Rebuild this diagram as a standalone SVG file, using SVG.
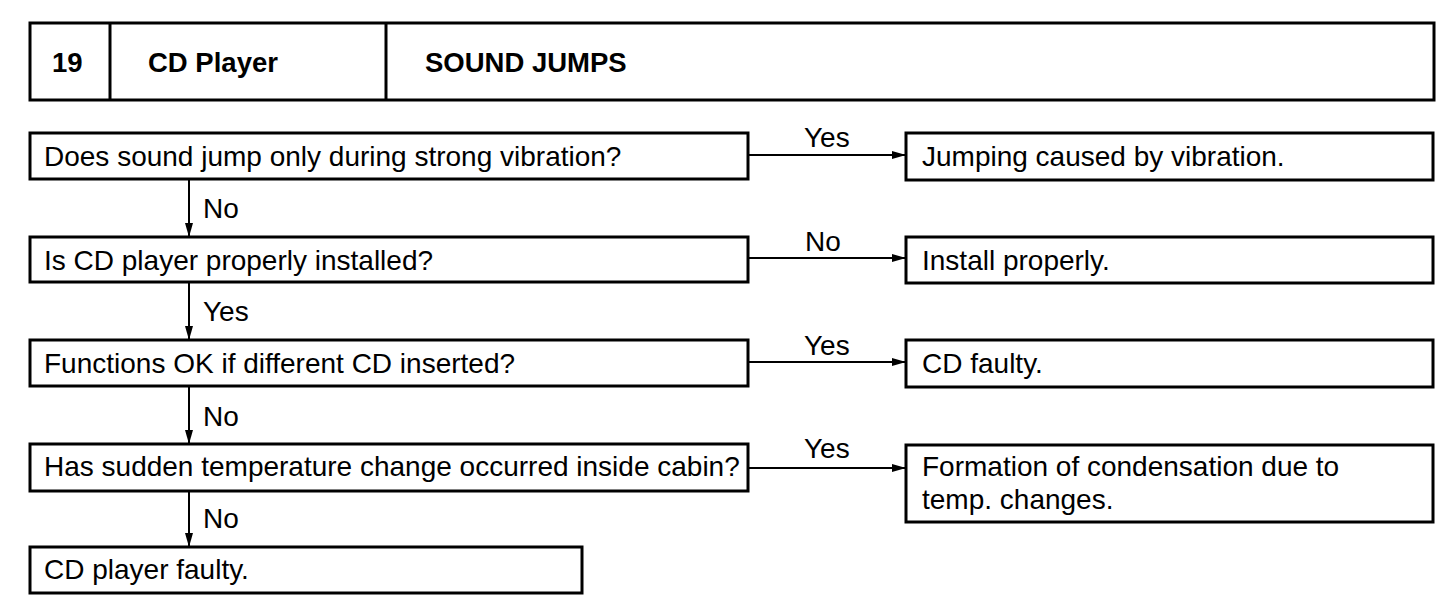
<svg xmlns="http://www.w3.org/2000/svg" width="1456" height="602" viewBox="0 0 1456 602">
<defs>
<style>
.box{fill:#fff;stroke:#000;stroke-width:3}
.hdr{fill:none;stroke:#000;stroke-width:3}
.t{font-family:"Liberation Sans",Arial,Helvetica,sans-serif;font-size:28px;fill:#000}
.h{font-family:"Liberation Sans",Arial,Helvetica,sans-serif;font-size:27.5px;font-weight:bold;fill:#000}
.ln{stroke:#000;stroke-width:2;fill:none}
</style>
<marker id="ah" viewBox="0 0 14 8" refX="14" refY="4" markerWidth="14" markerHeight="8" markerUnits="userSpaceOnUse" orient="auto">
<path d="M0,0 L14,4 L0,8 Z" fill="#000"/>
</marker>
</defs>
<rect width="1456" height="602" fill="#fff"/>
<g id="header">
<rect class="hdr" x="30" y="23" width="1404" height="77"/>
<line class="hdr" x1="110" y1="23" x2="110" y2="100"/>
<line class="hdr" x1="386" y1="23" x2="386" y2="100"/>
<text class="h" x="52" y="72">19</text>
<text class="h" x="148" y="72">CD Player</text>
<text class="h" x="425" y="72">SOUND JUMPS</text>
</g>
<g id="q1"><rect class="box" x="30" y="133" width="718" height="46"/><text class="t" x="44" y="166">Does sound jump only during strong vibration?</text></g>
<g id="q2"><rect class="box" x="30" y="237" width="718" height="45"/><text class="t" x="44" y="270">Is CD player properly installed?</text></g>
<g id="q3"><rect class="box" x="30" y="340" width="718" height="46"/><text class="t" x="44" y="373">Functions OK if different CD inserted?</text></g>
<g id="q4"><rect class="box" x="30" y="444" width="718" height="47"/><text class="t" x="44" y="476">Has sudden temperature change occurred inside cabin?</text></g>
<g id="r5"><rect class="box" x="30" y="547" width="552" height="46"/><text class="t" x="44" y="579">CD player faulty.</text></g>
<g id="r1"><rect class="box" x="906" y="133" width="527" height="47"/><text class="t" x="922" y="166">Jumping caused by vibration.</text></g>
<g id="r2"><rect class="box" x="906" y="237" width="527" height="46"/><text class="t" x="922" y="270">Install properly.</text></g>
<g id="r3"><rect class="box" x="906" y="340" width="527" height="47"/><text class="t" x="922" y="373">CD faulty.</text></g>
<g id="r4"><rect class="box" x="906" y="445" width="527" height="77"/><text class="t" x="922" y="476">Formation of condensation due to</text><text class="t" x="922" y="509">temp. changes.</text></g>
<g id="connectors">
<line class="ln" x1="748" y1="155" x2="906" y2="155" marker-end="url(#ah)"/>
<line class="ln" x1="748" y1="258" x2="906" y2="258" marker-end="url(#ah)"/>
<line class="ln" x1="748" y1="362" x2="906" y2="362" marker-end="url(#ah)"/>
<line class="ln" x1="748" y1="468" x2="906" y2="468" marker-end="url(#ah)"/>
<line class="ln" x1="189" y1="179" x2="189" y2="237" marker-end="url(#ah)"/>
<line class="ln" x1="189" y1="282" x2="189" y2="340" marker-end="url(#ah)"/>
<line class="ln" x1="189" y1="386" x2="189" y2="444" marker-end="url(#ah)"/>
<line class="ln" x1="189" y1="491" x2="189" y2="547" marker-end="url(#ah)"/>
<text class="t" x="804" y="147">Yes</text>
<text class="t" x="805" y="251">No</text>
<text class="t" x="804" y="355">Yes</text>
<text class="t" x="804" y="458">Yes</text>
<text class="t" x="203" y="218">No</text>
<text class="t" x="203" y="321">Yes</text>
<text class="t" x="203" y="426">No</text>
<text class="t" x="203" y="528">No</text>
</g>
</svg>
